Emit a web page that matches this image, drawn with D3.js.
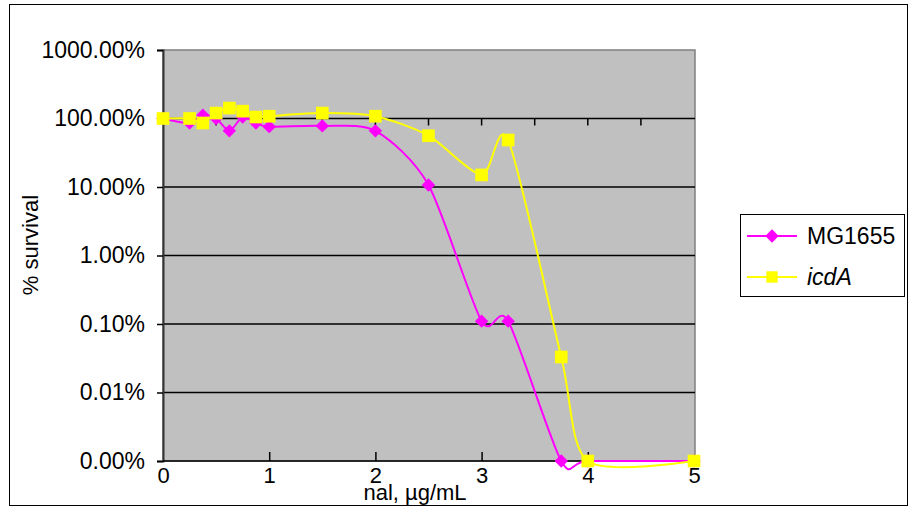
<!DOCTYPE html>
<html>
<head>
<meta charset="utf-8">
<script src="https://cdn.jsdelivr.net/npm/d3@7"></script>
<style>
   body { margin: 0; background: #fff; }
   text { font-family: "Liberation Sans", Arial, sans-serif; fill: #000; }
</style>
</head>
<body>
<script>
   // data (survival in %)
   let doses = [0, 0.25, 0.375, 0.5, 0.625, 0.75, 0.875, 1, 1.5, 2, 2.5, 3, 3.25, 3.75, 4, 5];
   let mg1655 = [100, 86, 112, 100, 66, 105, 86, 76, 78, 66, 10.7, 0.11, 0.11, 0.001, 0.001, 0.001];
   let icdA = [100, 100, 86, 120, 142, 128, 105, 108, 120, 108, 56, 15, 48.5, 0.033, 0.001, 0.001];
   let yTicks = [0.001, 0.01, 0.1, 1, 10, 100, 1000];
   let xTicks = [0, 1, 2, 3, 4, 5];
   let xMinorTicks = [0.5, 1, 1.5, 2, 2.5, 3, 3.5, 4, 4.5];
   let seriesNames = ['MG1655', 'icdA'];

   // canvas
   let width = 911;
   let height = 508;
   let plot = { left: 163, right: 695, top: 50, bottom: 461 };
   let svg = d3.select('body').append('svg')
      .attr('width', width)
      .attr('height', height);

   let xScale = d3.scaleLinear().domain([0, 5]).range([plot.left, 694]);
   let yScale = d3.scaleLog().domain([0.001, 1000]).range([plot.bottom, plot.top]);
   let pct = d3.format('.2%');

   // outer frame
   svg.append('rect')
      .attr('x', 9.5).attr('y', 4.5)
      .attr('width', 898).attr('height', 501)
      .attr('fill', '#fff')
      .attr('stroke', '#000')
      .attr('stroke-width', 1);

   // plot area
   svg.append('rect')
      .attr('x', plot.left).attr('y', plot.top)
      .attr('width', plot.right - plot.left)
      .attr('height', plot.bottom - plot.top)
      .attr('fill', '#c0c0c0')
      .attr('stroke', '#808080')
      .attr('stroke-width', 1.5);

   // gridlines
   svg.append('g')
      .selectAll('line')
      .data(yTicks.slice(1, -1))
      .enter()
      .append('line')
      .attr('x1', plot.left).attr('x2', plot.right)
      .attr('y1', (d) => yScale(d)).attr('y2', (d) => yScale(d))
      .attr('stroke', '#000')
      .attr('stroke-width', 1.5);

   // small ticks hanging under the 100% line
   svg.append('g')
      .selectAll('line')
      .data(xMinorTicks)
      .enter()
      .append('line')
      .attr('x1', (d) => xScale(d)).attr('x2', (d) => xScale(d))
      .attr('y1', yScale(100)).attr('y2', yScale(100) + 7)
      .attr('stroke', '#000')
      .attr('stroke-width', 1.5);

   // y axis
   let yAxis = d3.axisLeft(yScale)
      .tickValues(yTicks)
      .tickFormat((d) => pct(d / 100))
      .tickSize(6)
      .tickPadding(12);
   let gy = svg.append('g')
      .attr('transform', 'translate(' + plot.left + ', 0)')
      .call(yAxis);
   gy.select('.domain').attr('stroke', '#333').attr('stroke-width', 2);
   gy.selectAll('.tick line').attr('stroke', '#000').attr('stroke-width', 1.5);
   gy.selectAll('.tick text')
      .attr('font-size', 23)
      .attr('font-family', '"Liberation Sans", Arial, sans-serif');

   // x axis, ticks pointing up into the plot
   let xAxis = d3.axisBottom(xScale)
      .tickValues(xTicks)
      .tickFormat(d3.format('d'))
      .tickSize(0)
      .tickPadding(6);
   let gx = svg.append('g')
      .attr('transform', 'translate(0, ' + plot.bottom + ')')
      .call(xAxis);
   gx.select('.domain').remove();
   gx.selectAll('.tick text')
      .attr('font-size', 22)
      .attr('font-family', '"Liberation Sans", Arial, sans-serif');
   gx.selectAll('.tick')
      .filter((d) => d > 0 && d < 5)
      .append('line')
      .attr('y1', 0).attr('y2', -9)
      .attr('stroke', '#000')
      .attr('stroke-width', 1.5);
   svg.append('line')
      .attr('x1', plot.left).attr('x2', plot.right)
      .attr('y1', plot.bottom).attr('y2', plot.bottom)
      .attr('stroke', '#000')
      .attr('stroke-width', 1.5);

   // lines
   let line = d3.line()
      .x((d) => xScale(d[0]))
      .y((d) => yScale(d[1]))
      .curve(d3.curveCardinal.tension(0.2));

   let drawSeries = (values, color, diamond, size) => {
      let pts = doses.map((x, i) => [x, values[i]]);
      svg.append('path')
         .datum(pts)
         .attr('d', line)
         .attr('fill', 'none')
         .attr('stroke', color)
         .attr('stroke-width', 2);
      svg.append('g')
         .selectAll('path')
         .data(pts)
         .enter()
         .append('path')
         .attr('d', d3.symbol().type(d3.symbolSquare).size(size))
         .attr('transform', (d) => 'translate(' + xScale(d[0]) + ',' + yScale(d[1]) + ')' +
            (diamond ? ' rotate(45)' : ''))
         .attr('fill', color);
   };
   drawSeries(mg1655, '#ff00ff', true, 90);
   drawSeries(icdA, '#ffff00', false, 160);

   // axis titles
   svg.append('text')
      .attr('transform', 'translate(38, 245) rotate(-90)')
      .attr('text-anchor', 'middle')
      .attr('font-size', 22)
      .text('% survival');
   svg.append('text')
      .attr('x', 415)
      .attr('y', 500)
      .attr('text-anchor', 'middle')
      .attr('font-size', 22)
      .text('nal, µg/mL');

   // legend
   let legend = svg.append('g');
   legend.append('rect')
      .attr('x', 740.5).attr('y', 214.5)
      .attr('width', 164).attr('height', 82)
      .attr('fill', '#fff')
      .attr('stroke', '#000')
      .attr('stroke-width', 1);
   let legendColors = ['#ff00ff', '#ffff00'];
   let legendY = [236, 277];
   seriesNames.forEach((name, i) => {
      legend.append('line')
         .attr('x1', 747).attr('x2', 797)
         .attr('y1', legendY[i]).attr('y2', legendY[i])
         .attr('stroke', legendColors[i])
         .attr('stroke-width', 2);
      legend.append('path')
         .attr('d', d3.symbol().type(d3.symbolSquare).size(i === 0 ? 90 : 130))
         .attr('transform', 'translate(772,' + legendY[i] + ')' + (i === 0 ? ' rotate(45)' : ''))
         .attr('fill', legendColors[i]);
      legend.append('text')
         .attr('x', 807)
         .attr('y', legendY[i] + 8)
         .attr('font-size', 23)
         .attr('font-style', i === 1 ? 'italic' : 'normal')
         .text(name);
   });
</script>
</body>
</html>
